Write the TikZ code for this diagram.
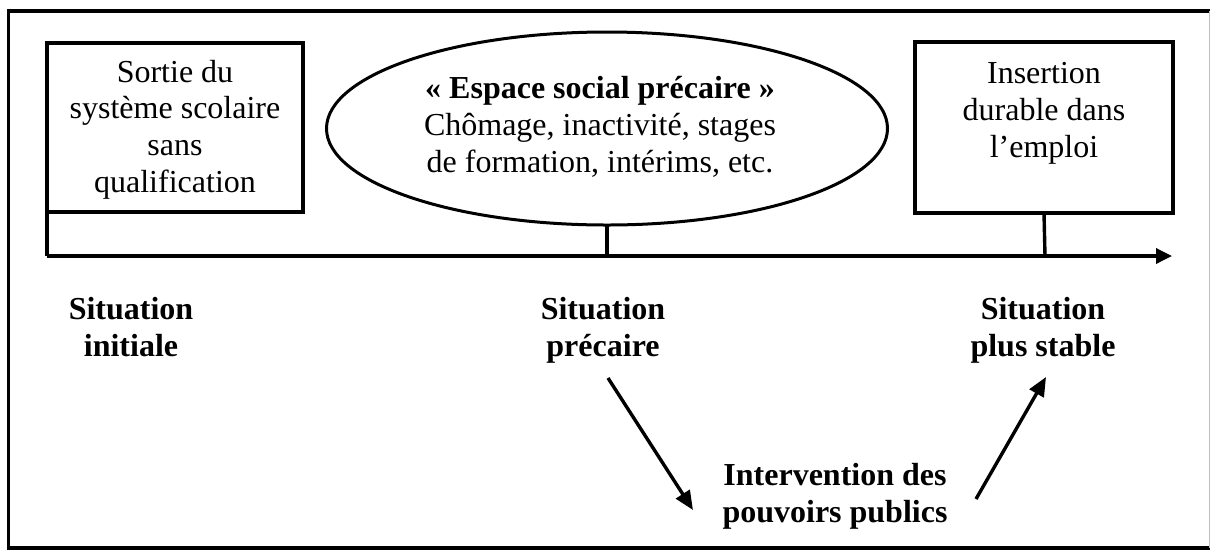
\documentclass[tikz,border=0pt]{standalone}
\usepackage{fontspec}
\setmainfont{Liberation Serif}
\usetikzlibrary{arrows.meta,shapes.geometric}
\begin{document}
\begin{tikzpicture}[x=1pt,y=-1pt,
  txt/.style={font=\fontsize{32}{36.8}\selectfont, align=center, inner sep=0pt, anchor=base},
  btxt/.style={txt, font=\fontsize{32}{36.8}\selectfont\bfseries},
  frame/.style={line width=3.6pt, line join=miter},
  boxshape/.style={draw, line width=3.4pt, inner sep=0pt, outer sep=0pt},
  link/.style={line width=3.4pt},
  arr/.style={line width=3.4pt, -{Triangle[length=19pt,width=16pt]}}]
\useasboundingbox (0,0) rectangle (1210,550);
\fill[white] (0,0) rectangle (1210,550);
% outer frame
\draw[frame] (1210,11) -- (8.5,11) -- (8.5,548) -- (1210,548);
\draw[gray!50, line width=1pt] (1209.5,11) -- (1209.5,548);
% boxes and ellipse
\node[boxshape, minimum width=256pt, minimum height=169pt] (lb) at (175,127.5) {};
\node[boxshape, minimum width=258pt, minimum height=171pt] (rb) at (1044,127.5) {};
\node[draw, ellipse, line width=3pt, inner sep=0pt, outer sep=0pt, minimum width=561pt, minimum height=193pt] (el) at (607,128.5) {};
% texts in shapes (base anchor = baseline of last line)
\node[txt] (lbt) at (175,192.5) {Sortie du\\système scolaire\\sans\\qualification};
\node[txt] (rbt) at (1044,157) {Insertion\\durable dans\\l’emploi};
\node[txt] (elt) at (600,172) {\textbf{« Espace social précaire »}\\Chômage, inactivité, stages\\de formation, intérims, etc.};
% axis
\coordinate (axL) at (47,256);
\coordinate (axR) at (1172,256);
\coordinate (t1) at (607,256);
\coordinate (t2) at (1045,256);
\draw[link] (lb.south west) -- (axL);
\draw[link] (el.south) -- (t1);
\draw[link] (rb.south) -- (t2);
\draw[link, -{Triangle[length=16pt,width=15pt]}] (axL) -- (axR);
% labels
\node[btxt] (si) at (131,356) {Situation\\initiale};
\node[btxt] (sp) at (603,356) {Situation\\précaire};
\node[btxt] (ss) at (1043,356) {Situation\\plus stable};
\node[btxt] (ip) at (835,522) {Intervention des\\pouvoirs publics};
% arrows
\coordinate (a1s) at (608,378);
\coordinate (a1e) at (693,510);
\coordinate (a2s) at (976,499);
\coordinate (a2e) at (1046,377);
\draw[arr] (a1s) -- (a1e);
\draw[arr] (a2s) -- (a2e);
\end{tikzpicture}
\end{document}
